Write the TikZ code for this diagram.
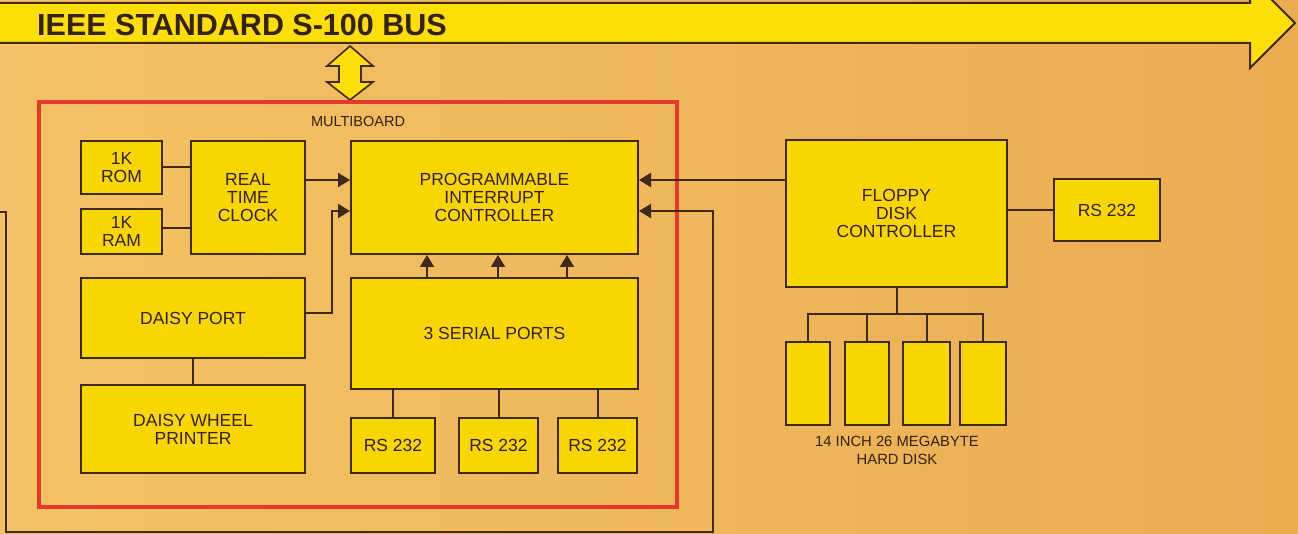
\documentclass[tikz,border=0pt]{standalone}
\usepackage{fontspec}
\setmainfont{Liberation Sans}
\usetikzlibrary{arrows.meta}
\definecolor{bgL}{HTML}{F4C266}
\definecolor{bgR}{HTML}{EBAC50}
\definecolor{yel}{HTML}{F8D600}
\definecolor{busyel}{HTML}{FCDE08}
\definecolor{ln}{HTML}{3E2A16}
\definecolor{txt}{HTML}{35220F}
\definecolor{redline}{HTML}{E5392C}
\tikzset{
  boxnode/.style={draw=ln, fill=yel, line width=2pt, inner sep=0pt, anchor=north west,
    align=center, text=txt, font=\fontsize{17.5}{17.8}\selectfont},
  conn/.style={draw=ln, line width=2pt},
  arrconn/.style={conn, -{Triangle[length=12pt,width=14pt]}},
  lbl/.style={text=txt, inner sep=0pt, align=center},
}
\begin{document}
\begin{tikzpicture}[x=1pt,y=-1pt]
\useasboundingbox (0,0) rectangle (1298,534);
\shade[left color=bgL, right color=bgR] (0,0) rectangle (1298,534);
\begin{scope}
\clip (0,0) rectangle (1298,534);
% bus arrow
\filldraw[fill=busyel, draw=ln, line width=2pt] (-5,3) -- (1250,3) -- (1250,-22) -- (1295,23) -- (1250,68) -- (1250,43) -- (-5,43) -- cycle;
\node[lbl, anchor=base west, font=\fontsize{30.5}{31}\selectfont\bfseries] (bus) at (37,36) {IEEE STANDARD S-100 BUS};
% double arrow
\filldraw[fill=busyel, draw=ln, line width=1.6pt] (350,46) -- (373,66) -- (361,66) -- (361,82) -- (373,82) -- (350,100) -- (327,82) -- (339,82) -- (339,66) -- (327,66) -- cycle;
% multiboard
\draw[redline, line width=4pt] (39,102) rectangle (677,507);
\node[lbl, font=\fontsize{14.5}{15}\selectfont] (mb) at (358,122) {MULTIBOARD};
% boxes
\node[boxnode, minimum width=81pt, minimum height=53pt] (rom) at (80,140) {1K\\ROM};
\node[boxnode, minimum width=81pt, minimum height=45pt] (ram) at (80,208) {1K\\RAM};
\node[boxnode, minimum width=114pt, minimum height=113pt] (rtc) at (190,140) {REAL\\TIME\\CLOCK};
\node[boxnode, minimum width=287pt, minimum height=113pt] (pic) at (350,140) {PROGRAMMABLE\\INTERRUPT\\CONTROLLER};
\node[boxnode, minimum width=224pt, minimum height=80pt] (dport) at (80,277) {DAISY PORT};
\node[boxnode, minimum width=224pt, minimum height=88pt] (dwp) at (80,384) {DAISY WHEEL\\PRINTER};
\node[boxnode, minimum width=287pt, minimum height=111pt] (ser) at (350,277) {3 SERIAL PORTS};
\node[boxnode, minimum width=84pt, minimum height=55pt] (rsa) at (350,417) {RS 232};
\node[boxnode, minimum width=79pt, minimum height=55pt] (rsb) at (458,417) {RS 232};
\node[boxnode, minimum width=79pt, minimum height=55pt] (rsc) at (557,417) {RS 232};
\node[boxnode, minimum width=221pt, minimum height=147pt] (fdc) at (785,139) {FLOPPY\\DISK\\CONTROLLER};
\node[boxnode, minimum width=106pt, minimum height=62pt] (rsr) at (1053,178) {RS 232};
\node[boxnode, minimum width=44pt, minimum height=83pt] (d1) at (785,341) {};
\node[boxnode, minimum width=44pt, minimum height=83pt] (d2) at (844,341) {};
\node[boxnode, minimum width=47pt, minimum height=83pt] (d3) at (902,341) {};
\node[boxnode, minimum width=46pt, minimum height=83pt] (d4) at (959,341) {};
\node[lbl, font=\fontsize{14.8}{18}\selectfont] (hd) at (897,450) {14 INCH 26 MEGABYTE\\HARD DISK};
% helper coordinates
\coordinate (ya) at (0,180);
\coordinate (yb) at (0,211);
\coordinate (hy) at (0,314);
\coordinate (loopend) at (0,212);
% connectors
\draw[conn] (rom.east |- 0,167) -- (rtc.west |- 0,167);
\draw[conn] (ram.east |- 0,228) -- (rtc.west |- 0,228);
\draw[arrconn] (rtc.east |- ya) -- (pic.west |- ya);
\draw[arrconn] (dport.east |- 0,313) -| (332,211) -- (pic.west |- yb);
\draw[conn] (dport.south) -- (dwp.north);
\draw[arrconn] (ser.north -| 427,0) -- (pic.south -| 427,0);
\draw[arrconn] (ser.north -| 498,0) -- (pic.south -| 498,0);
\draw[arrconn] (ser.north -| 567,0) -- (pic.south -| 567,0);
\draw[conn] (rsa.north |- ser.south) -- (rsa.north);
\draw[conn] (rsb.north |- ser.south) -- (rsb.north);
\draw[conn] (rsc.north |- ser.south) -- (rsc.north);
\draw[arrconn] (fdc.west |- ya) -- (pic.east |- ya);
\draw[arrconn] (loopend) -- (6,212) -- (6,532) -| (713,211) -- (pic.east |- yb);
\draw[conn] (fdc.east |- 0,210) -- (rsr.west |- 0,210);
\draw[conn] (fdc.south) -- (fdc.south |- hy);
\draw[conn] (d1.north) |- (d4.north |- hy) -- (d4.north);
\draw[conn] (d2.north) -- (d2.north |- hy);
\draw[conn] (d3.north) -- (d3.north |- hy);
\end{scope}
\end{tikzpicture}
\end{document}
